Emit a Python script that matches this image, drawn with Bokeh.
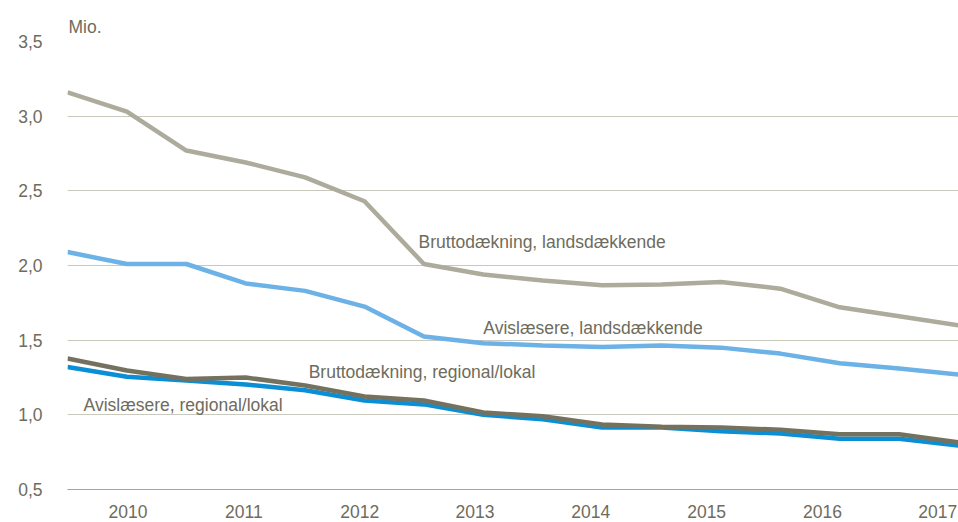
from bokeh.plotting import figure
from bokeh.models import Range1d, FixedTicker, Label, ColumnDataSource
from bokeh.embed import file_html
from bokeh.resources import INLINE

# ---- data (half-year periods, millions) ----
periods = list(range(16))
brutto_lands = [3.16, 3.03, 2.77, 2.69, 2.59, 2.43, 2.01, 1.94, 1.90, 1.867, 1.873, 1.89, 1.845, 1.72, 1.66, 1.60]
avis_lands = [2.09, 2.01, 2.01, 1.88, 1.83, 1.725, 1.525, 1.48, 1.465, 1.455, 1.465, 1.45, 1.41, 1.345, 1.31, 1.27]
brutto_reg = [1.377, 1.297, 1.24, 1.25, 1.196, 1.123, 1.096, 1.016, 0.99, 0.935, 0.92, 0.915, 0.90, 0.87, 0.87, 0.815]
avis_reg = [1.32, 1.255, 1.23, 1.203, 1.165, 1.096, 1.07, 1.0, 0.97, 0.915, 0.915, 0.89, 0.875, 0.84, 0.84, 0.795]

year_labels = ["2010", "2011", "2012", "2013", "2014", "2015", "2016", "2017"]
y_ticks = [0.5, 1.0, 1.5, 2.0, 2.5, 3.0, 3.5]
y_tick_labels = ["0,5", "1,0", "1,5", "2,0", "2,5", "3,0", "3,5"]

series_names = ["Bruttodækning, landsdækkende", "Avislæsere, landsdækkende",
                "Bruttodækning, regional/lokal", "Avislæsere, regional/lokal"]
unit_label = "Mio."

# ---- layout / style ----
year_label_pos = [1.02, 2.97, 4.92, 6.86, 8.81, 10.76, 12.71, 14.65]
FONT = "Liberation Sans"
TXT = "#6E6C5D"
FS = "17.5px"

p = figure(width=958, height=522, output_backend="svg", toolbar_location=None,
           x_range=Range1d(0, 15), y_range=Range1d(0.5, 3.5),
           min_border_left=67, min_border_right=0, min_border_top=41, min_border_bottom=33)
p.outline_line_color = None
p.background_fill_color = "white"
p.border_fill_color = "white"

p.title.text = unit_label
p.title.align = "left"
p.title.offset = 1
p.title.standoff = 10
p.title.text_font = FONT
p.title.text_font_size = FS
p.title.text_font_style = "normal"
p.title.text_color = TXT

# axes
p.xaxis.ticker = FixedTicker(ticks=year_label_pos)
p.xaxis.major_label_overrides = {pos: lab for pos, lab in zip(year_label_pos, year_labels)}
p.xaxis.major_tick_line_color = None
p.xaxis.minor_tick_line_color = None
p.xaxis.axis_line_color = "#A7A596"
p.xaxis.axis_line_width = 1.2
p.xaxis.major_label_standoff = 9
p.xaxis.major_label_text_font = FONT
p.xaxis.major_label_text_font_size = FS
p.xaxis.major_label_text_color = TXT

p.yaxis.ticker = FixedTicker(ticks=y_ticks)
p.yaxis.major_label_overrides = {t: lab for t, lab in zip(y_ticks, y_tick_labels)}
p.yaxis.major_tick_line_color = None
p.yaxis.minor_tick_line_color = None
p.yaxis.axis_line_color = None
p.yaxis.major_label_standoff = 19
p.yaxis.major_label_text_font = FONT
p.yaxis.major_label_text_font_size = FS
p.yaxis.major_label_text_color = TXT

p.xgrid.grid_line_color = None
p.ygrid.grid_line_color = "#C9C8BD"
p.ygrid.grid_line_width = 1.2

src = ColumnDataSource(dict(x=periods, bl=brutto_lands, al=avis_lands, br=brutto_reg, ar=avis_reg))
p.line("x", "bl", source=src, line_color="#ADAB9C", line_width=4.5)
p.line("x", "al", source=src, line_color="#6CB2E6", line_width=4.5)
p.line("x", "ar", source=src, line_color="#0A8FD6", line_width=4.5)
p.line("x", "br", source=src, line_color="#74725F", line_width=4.5)

label_pos = [(5.91, 2.155), (7.0, 1.58), (4.06, 1.285), (0.27, 1.065)]
for name, (lx, ly) in zip(series_names, label_pos):
    p.add_layout(Label(x=lx, y=ly, text=name, text_font=FONT, text_font_size=FS,
                       text_color=TXT, text_baseline="alphabetic", text_align="left"))

open("out.html", "w").write(file_html(p, INLINE))
